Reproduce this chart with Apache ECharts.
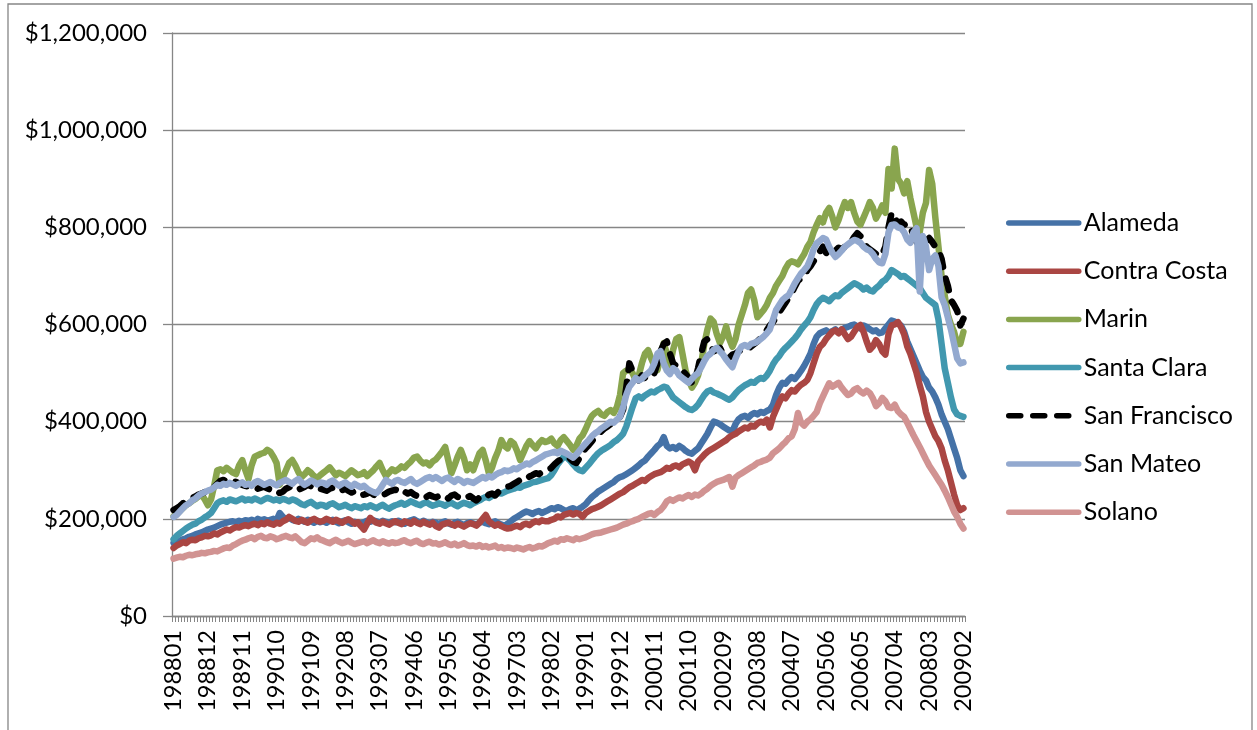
<!DOCTYPE html>
<html>
<head>
<meta charset="utf-8">
<script src="https://cdn.jsdelivr.net/npm/echarts@6/dist/echarts.min.js"></script>
<style>
  html, body { margin: 0; padding: 0; background: #fff; }
  #chart { width: 1257px; height: 730px; }
</style>
</head>
<body>
<div id="chart"></div>
<script>
// Monthly median home prices by county, January 1988 – February 2009.
// Values are in thousands of dollars, one row per calendar year.
const UNIT = 1000;

const countyNames = ['Alameda', 'Contra Costa', 'Marin', 'Santa Clara', 'San Francisco', 'San Mateo', 'Solano'];

const alameda = [
  150,152,155,158,160,163,165,168,170,172,175,178,
  180,182,185,188,190,192,194,195,193,196,194,197,
  196,198,195,200,197,199,196,198,200,197,212,204,
  200,202,198,196,200,197,194,198,195,192,196,193,
  195,192,196,198,194,191,195,197,193,190,194,192,
  190,193,196,194,197,195,192,196,194,191,195,193,
  196,193,190,194,197,199,195,192,196,193,190,194,
  192,189,193,195,191,188,192,194,190,187,191,193,
  190,188,192,194,191,189,193,195,191,188,186,190,
  195,200,204,208,212,215,213,210,214,216,212,215,
  218,222,220,224,222,218,216,220,222,218,221,225,
  230,238,245,250,256,260,264,268,272,276,282,286,
  288,292,296,300,305,310,316,320,328,335,342,350,
  355,368,350,345,348,344,350,346,340,336,334,340,
  345,355,365,375,388,400,398,395,390,386,382,380,
  395,405,410,412,408,414,418,415,420,418,422,425,
  435,455,470,480,478,486,492,488,496,505,515,527,
  540,560,575,582,585,588,583,586,590,584,588,593,
  595,598,600,596,592,598,595,590,586,588,582,584,
  592,600,608,606,603,598,585,565,550,535,520,505,
  492,485,470,462,450,435,415,400,385,365,345,325,
  300,288
];

const contraCosta = [
  140,145,148,152,150,155,157,156,160,162,165,164,
  166,170,168,172,175,178,176,180,183,182,185,187,
  185,188,190,187,191,189,193,190,188,192,190,195,
  198,204,200,196,194,198,195,192,197,200,196,194,
  196,200,197,194,198,195,192,196,199,195,190,193,
  185,178,190,202,196,192,190,194,191,188,192,195,
  192,189,195,193,190,196,192,189,194,191,188,192,
  185,182,188,190,192,189,186,190,187,184,188,191,
  189,186,192,200,208,195,190,186,189,185,182,180,
  181,184,186,183,188,190,187,192,195,193,197,195,
  195,198,200,205,203,208,210,212,209,212,210,204,
  212,216,220,222,225,228,232,236,240,244,248,252,
  255,260,265,268,272,276,280,278,284,288,292,294,
  296,300,305,303,308,310,306,312,315,318,314,300,
  318,325,332,338,342,346,350,354,358,362,368,372,
  375,380,384,388,386,392,390,396,400,398,404,388,
  410,425,440,452,448,458,465,462,470,476,480,486,
  500,520,540,554,560,570,578,585,588,582,590,580,
  570,575,585,595,599,585,565,548,555,568,560,545,
  538,580,598,600,605,595,580,555,540,520,500,475,
  452,420,400,385,370,360,345,320,300,275,250,228,
  218,222
];

const marin = [
  205,210,216,222,228,232,237,241,246,250,240,228,
  240,268,300,302,298,305,300,295,292,310,321,300,
  282,310,328,331,334,336,342,338,328,315,270,285,
  300,315,321,310,296,286,292,300,295,288,284,290,
  295,300,306,298,290,295,292,288,294,300,295,290,
  292,296,288,294,300,308,315,300,288,295,302,298,
  302,308,305,312,318,326,328,320,314,316,310,318,
  322,330,338,348,320,294,310,328,342,325,300,312,
  300,318,335,342,320,294,305,325,340,362,350,345,
  360,355,340,321,335,350,360,352,345,355,362,358,
  360,365,355,350,362,368,360,352,342,350,365,372,
  385,400,412,418,422,415,412,420,424,418,430,455,
  500,505,508,500,486,495,520,540,547,530,515,506,
  535,562,540,515,548,570,574,540,505,486,470,480,
  495,520,560,590,612,605,580,562,575,596,570,554,
  570,600,620,640,665,672,650,615,622,630,640,655,
  665,680,690,700,715,726,730,728,724,735,745,760,
  770,790,805,819,810,830,840,822,800,815,835,852,
  840,852,830,812,805,820,835,852,840,818,830,845,
  830,920,880,962,900,890,870,895,860,830,800,790,
  830,850,918,890,820,760,700,660,620,600,585,560,
  560,585
];

const santaClara = [
  158,165,170,175,180,184,188,190,195,198,203,207,
  212,222,232,236,238,235,240,238,236,239,242,238,
  240,238,242,239,236,240,243,241,238,240,237,241,
  239,236,240,238,234,230,228,232,235,230,226,229,
  228,225,230,232,228,224,226,229,225,222,226,224,
  222,226,224,228,225,222,226,229,224,221,225,228,
  230,233,229,232,236,233,230,228,232,234,230,227,
  229,232,230,227,231,233,229,226,230,233,231,228,
  232,235,238,242,245,243,247,250,253,252,255,258,
  260,262,265,264,268,270,272,275,276,278,280,282,
  284,290,300,312,320,328,326,320,312,305,300,298,
  305,312,320,328,335,340,344,348,352,358,362,368,
  375,390,410,430,448,452,448,454,458,462,460,465,
  468,472,470,460,450,445,440,435,430,426,424,428,
  435,445,455,462,465,460,458,455,452,448,445,450,
  458,465,470,475,478,482,480,486,490,488,495,505,
  518,528,535,545,552,558,565,572,580,590,598,605,
  615,630,642,650,655,652,648,655,660,658,665,670,
  675,680,685,682,678,672,676,670,668,675,680,688,
  692,700,712,708,704,698,700,695,690,685,680,675,
  665,655,650,645,640,610,560,510,480,450,425,415,
  412,410
];

const sanFrancisco = [
  218,222,226,232,236,240,243,246,250,252,255,258,
  260,266,272,278,280,277,275,278,276,273,270,268,
  266,268,265,262,264,266,263,260,262,258,253,256,
  262,265,268,264,260,263,266,270,267,262,259,262,
  260,258,262,264,260,256,259,262,258,254,257,252,
  248,250,252,255,250,247,251,249,252,256,258,260,
  258,262,256,252,255,250,247,251,248,245,249,246,
  244,247,250,246,242,248,250,245,243,240,244,247,
  242,238,244,248,245,250,252,248,255,260,264,266,
  268,272,276,280,278,283,287,290,294,292,296,298,
  300,305,312,318,322,325,328,324,318,315,325,338,
  345,352,360,368,375,380,386,390,395,400,405,410,
  425,470,520,505,490,485,495,490,488,494,500,520,
  545,560,565,540,520,515,510,505,498,490,480,485,
  510,540,565,570,558,545,548,552,540,535,532,538,
  540,545,548,552,550,555,560,565,572,580,588,598,
  605,615,625,635,645,655,665,678,690,695,700,712,
  720,730,740,750,760,748,740,745,752,758,755,760,
  762,770,780,788,782,770,760,755,750,745,740,745,
  760,800,830,820,808,812,805,808,800,785,770,768,
  765,772,778,770,760,752,735,700,680,650,640,628,
  598,612
];

const sanMateo = [
  204,208,215,222,228,232,238,242,248,252,255,258,
  260,265,270,268,272,270,274,271,268,272,275,270,
  272,268,275,278,274,270,273,276,272,269,274,277,
  280,276,272,278,282,275,270,274,279,276,271,275,
  274,270,276,279,273,268,272,275,270,266,272,268,
  265,268,262,258,255,253,260,270,280,276,272,278,
  280,276,274,278,282,275,272,276,280,284,286,282,
  286,282,278,283,285,280,276,282,279,274,278,276,
  274,278,282,286,283,288,285,290,294,296,300,298,
  300,304,302,307,310,314,312,317,320,324,328,332,
  334,336,338,335,340,337,334,330,326,332,340,348,
  355,362,370,376,380,386,390,395,400,398,404,410,
  430,455,472,480,490,485,488,495,500,506,520,540,
  545,520,505,498,510,505,495,490,485,480,488,495,
  500,512,525,535,540,548,552,545,538,528,520,512,
  530,545,555,558,554,560,562,565,570,575,582,590,
  610,630,640,650,656,660,672,685,695,705,712,720,
  735,755,767,772,778,775,760,748,739,745,752,760,
  765,770,774,772,768,760,755,752,745,735,728,726,
  745,790,805,806,800,798,790,775,768,790,798,668,
  782,760,712,735,742,720,656,640,615,590,560,530,
  520,522
];

const solano = [
  118,120,122,121,124,126,125,127,128,130,129,131,
  132,134,133,136,139,141,140,145,148,152,155,157,
  160,162,158,163,165,161,160,164,162,158,160,163,
  165,162,160,164,158,152,150,155,160,158,162,157,
  155,152,150,154,157,153,150,152,155,151,148,150,
  152,154,150,153,156,152,150,154,151,149,152,150,
  151,154,156,152,150,153,155,150,148,151,153,149,
  150,147,149,152,148,146,149,145,147,150,146,144,
  145,143,146,142,144,141,143,145,140,142,139,141,
  140,138,141,139,137,140,142,139,141,144,143,146,
  150,152,155,153,158,157,160,158,156,160,158,160,
  162,165,168,170,171,172,174,176,178,180,182,185,
  188,190,193,195,198,200,204,207,210,212,208,214,
  218,226,236,240,237,241,244,242,246,249,245,250,
  248,252,258,262,268,272,276,278,280,283,286,266,
  285,290,294,298,302,306,310,315,317,320,322,326,
  335,340,345,352,358,366,370,385,418,398,392,400,
  405,412,420,438,452,466,479,472,476,480,470,462,
  455,458,466,469,462,458,464,459,448,432,438,449,
  442,430,428,435,422,415,410,398,385,372,360,348,
  335,322,310,300,290,280,270,258,245,230,215,204,
  190,180
];

// Month labels "YYYYMM" from 198801 through 200902
const months = [];
for (let y = 1988; y <= 2009; y++) {
  for (let m = 1; m <= 12; m++) {
    if (y === 2009 && m > 2) break;
    months.push(String(y) + (m < 10 ? '0' : '') + m);
  }
}

const countyValues = [alameda, contraCosta, marin, santaClara, sanFrancisco, sanMateo, solano];
const countyColors = ['#4572A7', '#AA4643', '#89A54E', '#4198AF', '#000000', '#93A9CF', '#D19392'];

const GRAY = '#868686';
const FONT = 'Lato, "Open Sans", sans-serif';
const LINE_W = 6.5;

function money(v) {
  return '$' + Math.round(v).toString().replace(/\B(?=(\d{3})+(?!\d))/g, ',');
}

const series = countyNames.map((name, k) => ({
  name: name,
  type: 'line',
  data: countyValues[k].map(v => v * UNIT),
  symbol: 'none',
  showSymbol: false,
  smooth: false,
  lineStyle: {
    color: countyColors[k],
    width: LINE_W,
    type: name === 'San Francisco' ? [12, 12] : 'solid',
    cap: 'round',
    join: 'round'
  },
  itemStyle: { color: countyColors[k] },
  emphasis: { disabled: true }
}));

const chart = echarts.init(document.getElementById('chart'), null, { renderer: 'canvas' });
chart.setOption({
  animation: false,
  backgroundColor: '#ffffff',
  textStyle: { fontFamily: FONT },
  graphic: [{
    type: 'rect',
    shape: { x: 8, y: 4, width: 1244, height: 800 },
    style: { fill: 'none', stroke: GRAY, lineWidth: 1.3 },
    silent: true
  }],
  grid: { left: 172, top: 33, width: 793, height: 583, containLabel: false },
  legend: {
    orient: 'vertical',
    left: 1006,
    top: 210,
    padding: 0,
    itemWidth: 70,
    itemHeight: 26,
    itemGap: 22.2,
    itemStyle: { opacity: 0 },
    lineStyle: { width: 5.5, cap: 'round' },
    textStyle: { fontFamily: FONT, fontSize: 25, color: '#000', lineHeight: 26 },
    data: countyNames
  },
  xAxis: {
    type: 'category',
    data: months,
    boundaryGap: true,
    axisLine: { lineStyle: { color: GRAY, width: 1.3 } },
    axisTick: { show: true, interval: 0, length: 6, lineStyle: { color: GRAY, width: 1 } },
    axisLabel: {
      interval: 10,
      rotate: 90,
      margin: 14,
      fontFamily: FONT,
      fontSize: 23.5,
      color: '#000'
    },
    splitLine: { show: false }
  },
  yAxis: {
    type: 'value',
    min: 0,
    max: 1200000,
    interval: 200000,
    axisLine: { show: true, lineStyle: { color: GRAY, width: 1.3 } },
    axisTick: { show: true, length: 9, lineStyle: { color: GRAY, width: 1.3 } },
    axisLabel: {
      margin: 25,
      fontFamily: FONT,
      fontSize: 24,
      color: '#000',
      formatter: money
    },
    splitLine: { show: true, lineStyle: { color: GRAY, width: 1.3 } }
  },
  series: series
});
</script>
</body>
</html>
